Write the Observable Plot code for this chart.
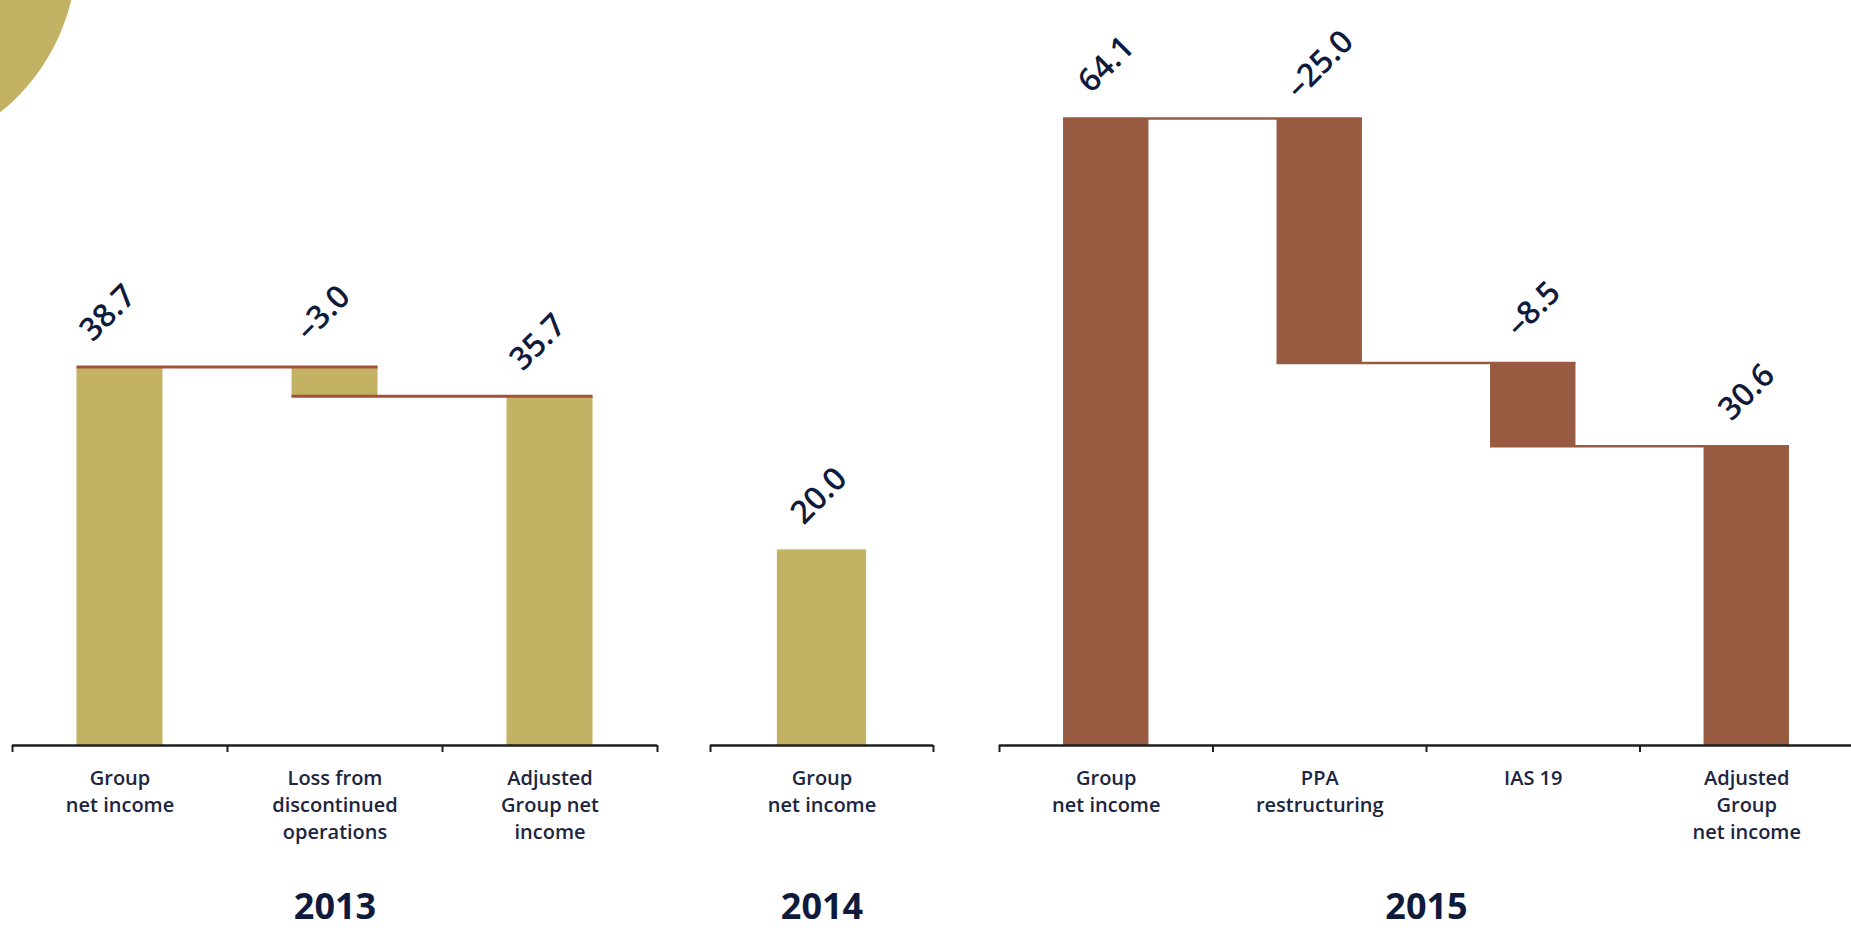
<!DOCTYPE html>
<html><head><meta charset="utf-8">
<script src="https://cdn.jsdelivr.net/npm/d3@7"></script>
<script src="https://cdn.jsdelivr.net/npm/@observablehq/plot@0.6"></script>
<style>
html,body{margin:0;padding:0;background:#fff;}
#page{position:relative;width:1851px;height:930px;overflow:hidden;background:#fff;font-family:"Open Sans",sans-serif;}
.panel{position:absolute;top:0;}
#disc{position:absolute;left:-335px;top:-254px;width:412px;height:412px;border-radius:50%;background:#c4b264;}
</style></head><body>
<div id="page"><div id="disc"></div></div>
<script>
// ---- data ----
const years = ["2013", "2014", "2015"];

const categories2013 = ["Group\nnet income", "Loss from\ndiscontinued\noperations", "Adjusted\nGroup net\nincome"];
const values2013 = [38.7, -3.0, 35.7];
const kinds2013 = ["total", "delta", "total"];

const categories2014 = ["Group\nnet income"];
const values2014 = [20.0];
const kinds2014 = ["total"];

const categories2015 = ["Group\nnet income", "PPA\nrestructuring", "IAS 19", "Adjusted\nGroup\nnet income"];
const values2015 = [64.1, -25.0, -8.5, 30.6];
const kinds2015 = ["total", "delta", "delta", "total"];

// ---- layout / style ----
const GOLD = "#c4b264", BROWN = "#985a40", LINK2013 = "#a5503b", INK = "#0f1b3d", AXIS = "#1e1e1e";
const PX_PER_UNIT = 9.78, BASE = 745, H = 930, PAD = 6;
const panels = [
  {year: years[0], cats: categories2013, vals: values2013, kinds: kinds2013, left: 12, width: 645, fill: GOLD, link: LINK2013, linkW: 3, dx: -12},
  {year: years[1], cats: categories2014, vals: values2014, kinds: kinds2014, left: 709.5, width: 223, fill: GOLD, link: LINK2013, linkW: 3, dx: -3},
  {year: years[2], cats: categories2015, vals: values2015, kinds: kinds2015, left: 999, width: 854, fill: BROWN, link: BROWN, linkW: 2.5, dx: 0}
];

const fmt = v => (v < 0 ? "\u2013" : "") + Math.abs(v).toFixed(1);

for (const p of panels) {
  const n = p.cats.length;
  let run = 0;
  const rows = p.vals.map((v, i) => {
    let y1, y2;
    if (p.kinds[i] === "total") { y1 = 0; y2 = v; run = v; }
    else { y1 = run; y2 = run + v; run = run + v; }
    return {i, v, y1, y2, top: Math.max(y1, y2), end: run};
  });
  const links = rows.slice(0, -1).map(r => ({x1: r.i + 0.3, x2: r.i + 1.7, y: r.end}));

  const chart = Plot.plot({
    width: p.width + 2 * PAD,
    height: H,
    marginLeft: PAD, marginRight: PAD, marginTop: 0, marginBottom: H - BASE,
    style: {overflow: "visible", background: "transparent"},
    x: {type: "linear", domain: [0, n]},
    y: {domain: [0, BASE / PX_PER_UNIT], axis: null},
    marks: [
      Plot.rectY(rows, {x1: d => d.i + 0.3, x2: d => d.i + 0.7, y1: "y1", y2: "y2", fill: p.fill}),
      Plot.ruleY(links, {x1: "x1", x2: "x2", y: "y", stroke: p.link, strokeWidth: p.linkW}),
      Plot.ruleY([0], {x1: 0, x2: n, stroke: AXIS, strokeWidth: 2.5}),
      Plot.axisX({ticks: d3.range(n + 1), tickSize: 7, tickFormat: () => "", label: null, stroke: AXIS, strokeWidth: 2}),
      Plot.text(rows, {x: d => d.i + 0.5, y: "top", text: d => fmt(d.v), rotate: -45, textAnchor: "middle", lineAnchor: "middle", dx: p.dx, dy: -54, fontSize: 32, fontWeight: 600, fill: INK, fontFamily: "Open Sans"}),
      Plot.text(p.cats, {x: (d, i) => i + 0.5, frameAnchor: "bottom", lineAnchor: "top", dy: 20, lineHeight: 1.35, fontSize: 20, fontWeight: 600, fill: "#1c2541", fontFamily: "Open Sans"}),
      Plot.text([p.year], {x: n / 2, frameAnchor: "bottom", lineAnchor: "middle", dy: 162, fontSize: 36, fontWeight: 700, fill: INK, fontFamily: "Open Sans"})
    ]
  });
  chart.classList.add("panel");
  chart.style.left = (p.left - PAD) + "px";
  document.getElementById("page").appendChild(chart);
}
</script>
</body></html>
